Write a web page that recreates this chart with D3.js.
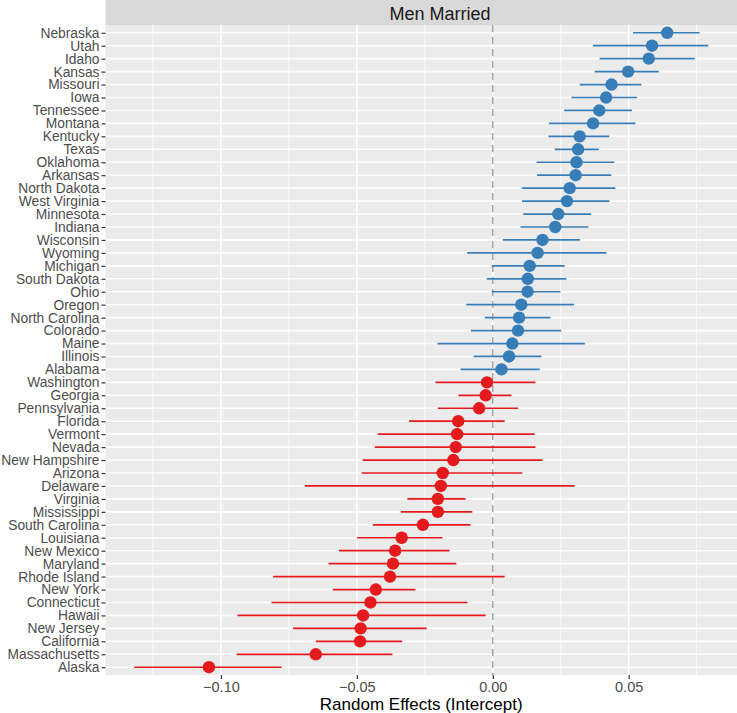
<!DOCTYPE html>
<html>
<head>
<meta charset="utf-8">
<script src="https://cdn.jsdelivr.net/npm/d3@7"></script>
<style>
  html, body { margin: 0; padding: 0; background: #fff; }
  svg { display: block; font-family: "Liberation Sans", Arial, sans-serif; }
</style>
</head>
<body>
<svg id="chart" width="737" height="713"></svg>
<script>
const panelTitle = "Men Married";
const xTitle = "Random Effects (Intercept)";

const states = ["Nebraska","Utah","Idaho","Kansas","Missouri","Iowa","Tennessee","Montana","Kentucky","Texas",
  "Oklahoma","Arkansas","North Dakota","West Virginia","Minnesota","Indiana","Wisconsin","Wyoming","Michigan","South Dakota",
  "Ohio","Oregon","North Carolina","Colorado","Maine","Illinois","Alabama","Washington","Georgia","Pennsylvania",
  "Florida","Vermont","Nevada","New Hampshire","Arizona","Delaware","Virginia","Mississippi","South Carolina","Louisiana",
  "New Mexico","Maryland","Rhode Island","New York","Connecticut","Hawaii","New Jersey","California","Massachusetts","Alaska"];

const estimates = [0.0642,0.0586,0.0574,0.0498,0.0437,0.0417,0.0392,0.0369,0.0320,0.0314,
  0.0308,0.0305,0.0283,0.0273,0.0241,0.0230,0.0183,0.0165,0.0136,0.0129,
  0.0128,0.0105,0.0097,0.0093,0.0072,0.0060,0.0032,-0.0021,-0.0026,-0.0050,
  -0.0127,-0.0131,-0.0136,-0.0145,-0.0184,-0.0191,-0.0202,-0.0202,-0.0257,-0.0335,
  -0.0359,-0.0367,-0.0378,-0.0430,-0.0450,-0.0477,-0.0486,-0.0488,-0.0651,-0.1044];

const lower = [0.0516,0.0369,0.0393,0.0375,0.0320,0.0290,0.0263,0.0207,0.0205,0.0228,
  0.0161,0.0163,0.0107,0.0108,0.0112,0.0102,0.0037,-0.0094,-0.0004,-0.0022,
  -0.0004,-0.0097,-0.0029,-0.0080,-0.0203,-0.0070,-0.0118,-0.0211,-0.0126,-0.0202,
  -0.0308,-0.0423,-0.0434,-0.0479,-0.0482,-0.0691,-0.0314,-0.0338,-0.0441,-0.0499,
  -0.0566,-0.0604,-0.0808,-0.0588,-0.0814,-0.0939,-0.0735,-0.0651,-0.0942,-0.1319];

const upper = [0.0761,0.0793,0.0743,0.0611,0.0547,0.0531,0.0512,0.0525,0.0429,0.0390,
  0.0447,0.0436,0.0451,0.0430,0.0362,0.0352,0.0321,0.0418,0.0265,0.0271,
  0.0249,0.0299,0.0212,0.0252,0.0339,0.0179,0.0173,0.0157,0.0069,0.0093,
  0.0044,0.0154,0.0157,0.0183,0.0109,0.0301,-0.0100,-0.0075,-0.0082,-0.0185,
  -0.0159,-0.0134,0.0044,-0.0284,-0.0093,-0.0026,-0.0243,-0.0333,-0.0369,-0.0777];

const xTicks = [-0.10, -0.05, 0.00, 0.05];
const xMinorTicks = [-0.125, -0.075, -0.025, 0.025, 0.075];
const signGroups = ["negative", "positive"];
const groupColors = ["#E41A1C", "#377EB8"];

const rows = states.map((s, i) => ({ state: s, est: estimates[i], lo: lower[i], hi: upper[i] }));

const W = 737, H = 713;
const m = { left: 105.5, right: 0, top: 25, bottom: 38 };
const pL = m.left, pR = W - m.right, pT = m.top, pB = H - m.bottom;

const lo = d3.min(lower), hi = d3.max(upper);
const pad = (hi - lo) * 0.05;
const x = d3.scaleLinear().domain([lo - pad, hi + pad]).range([pL, pR]);
const y = d3.scalePoint().domain(states).range([pT, pB]).padding(0.6);
const color = d3.scaleOrdinal().domain(signGroups).range(groupColors);
const groupOf = v => v >= 0 ? "positive" : "negative";

const svg = d3.select("#chart");

// strip (the original strip extends past the cropped right edge)
svg.append("rect").attr("x", pL).attr("y", 0).attr("width", pR - pL).attr("height", pT)
  .attr("fill", "#D9D9D9");
svg.append("text").attr("x", 440).attr("y", 20)
  .attr("text-anchor", "middle")
  .attr("font-size", 18).attr("fill", "#1A1A1A").text(panelTitle);

// panel
svg.append("rect").attr("x", pL).attr("y", pT).attr("width", pR - pL).attr("height", pB - pT)
  .attr("fill", "#EBEBEB");

const grid = svg.append("g");
grid.selectAll(".minor").data(xMinorTicks).join("line")
  .attr("x1", d => x(d)).attr("x2", d => x(d)).attr("y1", pT).attr("y2", pB)
  .attr("stroke", "#fff").attr("stroke-width", 0.8);
grid.selectAll(".major").data(xTicks).join("line")
  .attr("x1", d => x(d)).attr("x2", d => x(d)).attr("y1", pT).attr("y2", pB)
  .attr("stroke", "#fff").attr("stroke-width", 1.6);
grid.selectAll(".hy").data(states).join("line")
  .attr("x1", pL).attr("x2", pR).attr("y1", d => y(d)).attr("y2", d => y(d))
  .attr("stroke", "#fff").attr("stroke-width", 1.6);

// zero line
svg.append("line").attr("x1", x(0)).attr("x2", x(0)).attr("y1", pT).attr("y2", pB)
  .attr("stroke", "#A6A6A6").attr("stroke-width", 1.5).attr("stroke-dasharray", "7,5");

// intervals
svg.append("g").selectAll("line").data(rows).join("line")
  .attr("x1", d => x(d.lo)).attr("x2", d => x(d.hi))
  .attr("y1", d => y(d.state)).attr("y2", d => y(d.state))
  .attr("stroke", d => color(groupOf(d.est))).attr("stroke-width", 1.7);

// points
svg.append("g").selectAll("circle").data(rows).join("circle")
  .attr("cx", d => x(d.est)).attr("cy", d => y(d.state)).attr("r", 6.2)
  .attr("fill", d => color(groupOf(d.est)));

// y axis
const yAxis = svg.append("g").attr("transform", `translate(${pL},0)`)
  .call(d3.axisLeft(y).tickSize(4).tickPadding(2));
yAxis.select(".domain").remove();
yAxis.selectAll(".tick line").attr("stroke", "#333").attr("stroke-width", 1.2);
yAxis.selectAll(".tick text").attr("fill", "#4D4D4D").attr("font-size", 13.8)
  .attr("font-family", "Liberation Sans, Arial, sans-serif");

// x axis
const xAxis = svg.append("g").attr("transform", `translate(0,${pB})`)
  .call(d3.axisBottom(x).tickValues(xTicks).tickFormat(d3.format(".2f")).tickSize(4).tickPadding(3));
xAxis.select(".domain").remove();
xAxis.selectAll(".tick line").attr("stroke", "#333").attr("stroke-width", 1.2);
xAxis.selectAll(".tick text").attr("fill", "#4D4D4D").attr("font-size", 14.5)
  .attr("font-family", "Liberation Sans, Arial, sans-serif");

svg.append("text").attr("x", (pL + pR) / 2).attr("y", H - 3)
  .attr("text-anchor", "middle").attr("font-size", 17).attr("fill", "#000").text(xTitle);
</script>
</body>
</html>
